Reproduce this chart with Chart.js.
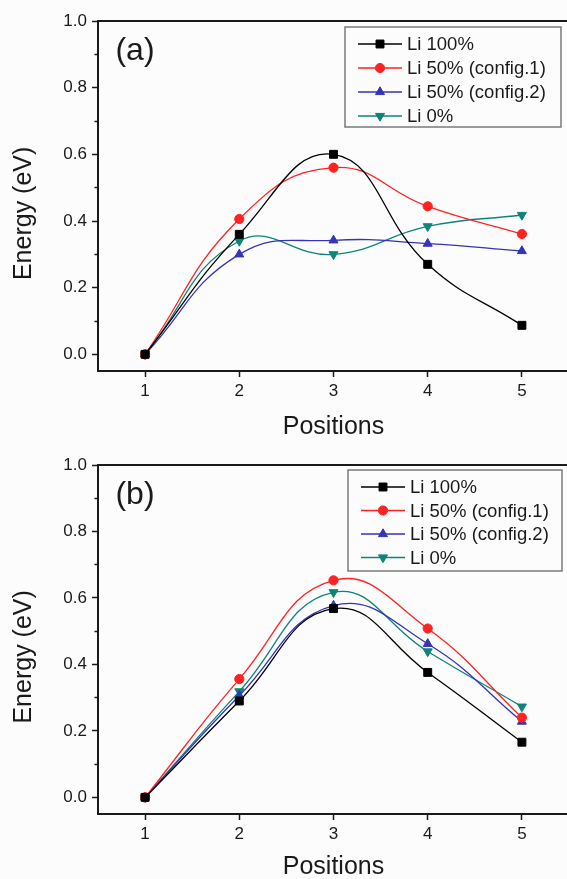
<!DOCTYPE html>
<html>
<head>
<meta charset="utf-8">
<script src="https://cdn.jsdelivr.net/npm/chart.js@4.4.1/dist/chart.umd.min.js"></script>
<style>
  html, body { margin: 0; padding: 0; background: #fcfcfc; overflow: hidden; }
  body { width: 567px; height: 879px; position: relative; }
  .panel { position: absolute; left: 0; width: 580px; }
  #panelA { top: 0; height: 440px; }
  #panelB { top: 440px; height: 439px; }
</style>
</head>
<body>
<div class="panel" id="panelA"><canvas id="chartA"></canvas></div>
<div class="panel" id="panelB"><canvas id="chartB"></canvas></div>
<script>
// --- data ---
const positions = [1, 2, 3, 4, 5];
const seriesNames = ['Li 100%', 'Li 50% (config.1)', 'Li 50% (config.2)', 'Li 0%'];
const yMajorTicks = [0.0, 0.2, 0.4, 0.6, 0.8, 1.0];
const yMinorTicks = [0.1, 0.3, 0.5, 0.7, 0.9];

// panel (a)
const aLi100 = [0, 0.360, 0.600, 0.270, 0.087];
const aLi50c1 = [0, 0.406, 0.560, 0.444, 0.361];
const aLi50c2 = [0, 0.300, 0.342, 0.332, 0.310];
const aLi0 = [0, 0.340, 0.300, 0.384, 0.418];

// panel (b)
const bLi100 = [0, 0.290, 0.568, 0.376, 0.166];
const bLi50c1 = [0, 0.356, 0.653, 0.508, 0.240];
const bLi50c2 = [0, 0.306, 0.577, 0.462, 0.228];
const bLi0 = [0, 0.319, 0.617, 0.439, 0.273];

// --- look ---
const FONT = "'Liberation Sans', Arial, Helvetica, sans-serif";
const INK = '#1a1a1a';
const seriesStyle = [
  { color: '#000000', pointStyle: 'rect', radius: 5.6, rotation: 0 },
  { color: '#ff2222', pointStyle: 'circle', radius: 4.6, rotation: 0 },
  { color: '#3434b4', pointStyle: 'triangle', radius: 5.2, rotation: 0 },
  { color: '#0e8479', pointStyle: 'triangle', radius: 5.2, rotation: 180 }
];

function makeDatasets(seriesList) {
  return seriesList.map((vals, i) => {
    const st = seriesStyle[i];
    return {
      label: seriesNames[i],
      data: positions.map((x, j) => ({ x, y: vals[j] })),
      borderColor: st.color,
      backgroundColor: st.color,
      borderWidth: 1.3,
      tension: 0.45,
      pointStyle: st.pointStyle,
      pointRadius: st.radius,
      pointRotation: st.rotation,
      pointBorderWidth: 1,
      pointBackgroundColor: st.color,
      pointBorderColor: st.color
    };
  });
}

// framed legend with line + marker samples, drawn inside the plot
const frameLegend = {
  id: 'frameLegend',
  afterDatasetsDraw(chart, args, o) {
    const ctx = chart.ctx;
    ctx.save();
    ctx.fillStyle = '#fcfcfc';
    ctx.fillRect(o.left, o.top, o.width, o.height);
    ctx.strokeStyle = '#7a7a7a';
    ctx.lineWidth = 1.5;
    ctx.strokeRect(o.left, o.top, o.width, o.height);
    ctx.font = '18.5px ' + FONT;
    ctx.textBaseline = 'middle';
    chart.data.datasets.forEach((ds, i) => {
      const y = o.top + o.firstRow + i * o.rowGap;
      const x0 = o.left + 13, x1 = o.left + 57;
      ctx.strokeStyle = ds.borderColor;
      ctx.lineWidth = 1.3;
      ctx.beginPath(); ctx.moveTo(x0, y); ctx.lineTo(x1, y); ctx.stroke();
      ctx.fillStyle = ds.pointBackgroundColor;
      ctx.strokeStyle = ds.pointBorderColor;
      ctx.lineWidth = 1;
      Chart.helpers.drawPoint(ctx, {
        pointStyle: ds.pointStyle, radius: ds.pointRadius,
        rotation: ds.pointRotation, borderWidth: 1
      }, (x0 + x1) / 2, y);
      ctx.fillStyle = INK;
      ctx.fillText(ds.label, o.left + 62, y + 1);
    });
    ctx.restore();
  }
};

const panelTag = {
  id: 'panelTag',
  afterDraw(chart, args, o) {
    const ctx = chart.ctx;
    ctx.save();
    ctx.font = o.size + 'px ' + FONT;
    ctx.fillStyle = INK;
    ctx.textAlign = 'center';
    ctx.textBaseline = 'middle';
    ctx.fillText(o.text, o.x, o.y);
    ctx.restore();
  }
};

function makeChart(canvasId, tag, seriesList, dims) {
  const tickFont = { family: FONT, size: 17 };
  const titleFont = { family: FONT, size: 25 };
  return new Chart(document.getElementById(canvasId), {
    type: 'line',
    data: { datasets: makeDatasets(seriesList) },
    options: {
      responsive: true,
      maintainAspectRatio: false,
      animation: false,
      layout: { padding: { top: dims.top, left: 0, right: 11, bottom: 0 } },
      plugins: {
        legend: { display: false },
        tooltip: { enabled: false },
        frameLegend: dims.legend,
        panelTag: { text: tag, x: 135, y: dims.tagY, size: 32 }
      },
      scales: {
        x: {
          type: 'linear', min: 0.5, max: 5.5,
          afterBuildTicks: s => { s.ticks = positions.map(v => ({ value: v })); },
          afterFit: s => { s.height = dims.xHeight; },
          grid: { drawOnChartArea: false, tickLength: 6, tickWidth: 1.5, tickColor: INK },
          border: { color: INK, width: 2 },
          ticks: { color: INK, font: tickFont, padding: 4, maxRotation: 0 },
          title: { display: true, text: 'Positions', color: INK, font: titleFont,
                   padding: { top: 0, bottom: dims.titlePad } }
        },
        xTop: {
          type: 'linear', position: 'top', min: 0.5, max: 5.5,
          afterFit: s => { s.height = 0; },
          grid: { display: false },
          ticks: { display: false },
          border: { color: INK, width: 2 }
        },
        y: {
          min: -0.05, max: 1.0, weight: 1,
          afterBuildTicks: s => { s.ticks = yMajorTicks.map(v => ({ value: v })); },
          afterFit: s => { s.width = 98; },
          grid: { drawOnChartArea: false, tickLength: 6, tickWidth: 1.5, tickColor: INK },
          border: { color: INK, width: 2 },
          ticks: { color: INK, font: tickFont, padding: 5, callback: v => v.toFixed(1) },
          // trailing spaces nudge the rotated title down like the original
          title: { display: true, text: 'Energy (eV)     ', color: INK, font: titleFont, padding: { top: 9 } }
        },
        yMinor: {
          position: 'left', min: -0.05, max: 1.0, weight: 0,
          afterBuildTicks: s => { s.ticks = yMinorTicks.map(v => ({ value: v })); },
          afterFit: s => { s.width = 0; },
          grid: { drawOnChartArea: false, tickLength: 3.5, tickWidth: 1.5, tickColor: INK },
          border: { display: false },
          ticks: { display: false }
        }
      }
    },
    plugins: [frameLegend, panelTag]
  });
}

makeChart('chartA', '(a)', [aLi100, aLi50c1, aLi50c2, aLi0], {
  top: 21, xHeight: 69, tagY: 51, titlePad: -2,
  legend: { left: 345, top: 27, width: 216, height: 100, firstRow: 17, rowGap: 24 }
});
makeChart('chartB', '(b)', [bLi100, bLi50c1, bLi50c2, bLi0], {
  top: 25, xHeight: 65, tagY: 55, titlePad: -3,
  legend: { left: 348, top: 30, width: 214, height: 101, firstRow: 17, rowGap: 23.5 }
});
</script>
</body>
</html>
